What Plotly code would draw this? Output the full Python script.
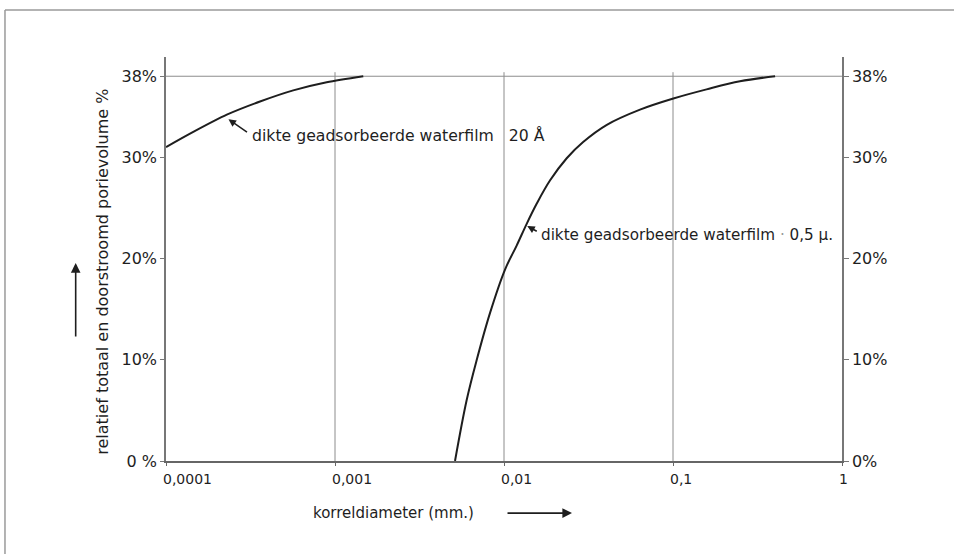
import numpy as np
import plotly.graph_objects as go

# --- data ---
d_20A = [0.0001, 0.000145, 0.000229, 0.00036, 0.000566, 0.000893, 0.00147]
v_20A = [31.0, 32.5, 34.2, 35.5, 36.6, 37.4, 38.0]

d_05u = [0.00513, 0.00601, 0.0069, 0.00826, 0.01014, 0.0119, 0.0136, 0.0156, 0.0187,
         0.0235, 0.0294, 0.0406, 0.0638, 0.1005, 0.158, 0.249, 0.402]
v_05u = [0.0, 6.0, 10.0, 14.6, 18.9, 21.3, 23.4, 25.4, 27.7,
         29.9, 31.5, 33.2, 34.7, 35.8, 36.7, 37.5, 38.0]

x_ticks = [0.0001, 0.001, 0.01, 0.1, 1]
x_labels = ["0,0001", "0,001", "0,01", "0,1", "1"]
y_ticks = [0, 10, 20, 30, 38]
y_labels_left = ["0 %", "10%", "20%", "30%", "38%"]
y_labels_right = ["0%", "10%", "20%", "30%", "38%"]
grid_x = [0.001, 0.01, 0.1]

ink = "#1e1e1e"
gray = "#8c8c8c"
font = "DejaVu Sans"

fig = go.Figure()
fig.add_trace(go.Scatter(x=d_20A, y=v_20A, mode="lines",
                         line=dict(color=ink, width=2, shape="spline", smoothing=0.8),
                         showlegend=False, hoverinfo="skip"))
fig.add_trace(go.Scatter(x=d_05u, y=v_05u, mode="lines",
                         line=dict(color=ink, width=2, shape="spline", smoothing=1.0),
                         showlegend=False, hoverinfo="skip"))
# invisible trace to activate the right axis
fig.add_trace(go.Scatter(x=[1], y=[0], yaxis="y2", mode="markers", marker=dict(opacity=0),
                         showlegend=False, hoverinfo="skip"))

shapes = []
for gx in grid_x:
    shapes.append(dict(type="line", xref="x", yref="y", x0=gx, x1=gx, y0=0, y1=38.4,
                       line=dict(color=gray, width=1), layer="below"))
shapes.append(dict(type="line", xref="paper", yref="y", x0=0, x1=1, y0=y_ticks[-1], y1=y_ticks[-1],
                   line=dict(color=gray, width=1), layer="below"))
# page frame of the scan
shapes.append(dict(type="line", xref="paper", yref="paper", x0=-0.2382, x1=-0.2382, y0=-0.24, y1=1.1163,
                   line=dict(color="#9a9a9a", width=1.5)))
shapes.append(dict(type="line", xref="paper", yref="paper", x0=-0.2382, x1=1.17, y0=1.1163, y1=1.1163,
                   line=dict(color="#9a9a9a", width=1.5)))

annotations = [
    # arrow + label for 20 Å
    dict(x=np.log10(d_20A[2]) + 0.01, y=v_20A[2] - 0.45, xref="x", yref="y", text="", showarrow=True,
         arrowhead=2, arrowsize=1, arrowwidth=1.5, arrowcolor=ink, ax=20, ay=14),
    dict(x=np.log10(d_20A[2]) + 0.14, y=v_20A[2] - 2.1, xref="x", yref="y", xanchor="left", yanchor="middle",
         text="dikte geadsorbeerde waterfilm   20 Å", showarrow=False,
         font=dict(family=font, size=15.7, color=ink)),
    # arrow + label for 0.5 µ
    dict(x=np.log10(d_05u[6]) + 0.004, y=v_05u[6] - 0.2, xref="x", yref="y", text="", showarrow=True,
         arrowhead=2, arrowsize=1, arrowwidth=1.5, arrowcolor=ink, ax=11, ay=6),
    dict(x=np.log10(d_05u[6]) + 0.076, y=v_05u[6] - 1.1, xref="x", yref="y", xanchor="left", yanchor="middle",
         text="dikte geadsorbeerde waterfilm <span style='color:#999'>·</span> 0,5 µ.", showarrow=False,
         font=dict(family=font, size=15.2, color=ink)),
    # axis titles
    dict(x=-0.0935, y=0.468, xref="paper", yref="paper", xanchor="center", yanchor="middle",
         text="relatief totaal en doorstroomd porievolume %",
         textangle=-90, showarrow=False, font=dict(family=font, size=16, color=ink)),
    dict(x=0.336, y=-0.129, xref="paper", yref="paper", xanchor="center", yanchor="middle",
         text="korreldiameter (mm.)",
         showarrow=False, font=dict(family=font, size=15, color=ink)),
    # direction arrows
    dict(x=-0.1336, y=0.490, xref="paper", yref="paper", ax=0, ay=75, text="", showarrow=True,
         arrowhead=2, arrowsize=1.2, arrowwidth=1.6, arrowcolor=ink),
    dict(x=0.6006, y=-0.129, xref="paper", yref="paper", ax=-66, ay=0, text="", showarrow=True,
         arrowhead=2, arrowsize=1.2, arrowwidth=1.6, arrowcolor=ink),
]
# x tick labels, set slightly left of each tick as in the original
for v, lab in zip(x_ticks, x_labels):
    annotations.append(dict(x=np.log10(v), y=0, xref="x", yref="y", text=lab, showarrow=False,
                            xanchor="left", yanchor="middle", xshift=-5, yshift=-18,
                            font=dict(family=font, size=14, color=ink)))

fig.update_layout(
    width=954, height=554,
    margin=dict(l=166, r=112, t=57, b=93),
    paper_bgcolor="white", plot_bgcolor="white",
    font=dict(family=font, color=ink),
    xaxis=dict(type="log", range=[-4, 0], tickvals=x_ticks, showticklabels=False,
               showgrid=False, zeroline=False, showline=True, linecolor="#666", linewidth=1.5,
               ticks="outside", ticklen=3, tickcolor="#666"),
    yaxis=dict(range=[0, 39.9], tickvals=y_ticks, ticktext=y_labels_left,
               showgrid=False, zeroline=False, showline=True, linecolor="#777", linewidth=1.5,
               ticks="outside", ticklen=4, tickcolor="#777", tickfont=dict(size=16, family=font, color=ink)),
    yaxis2=dict(range=[0, 39.9], tickvals=y_ticks, ticktext=y_labels_right, overlaying="y", side="right",
                showgrid=False, zeroline=False, showline=True, linecolor="#777", linewidth=1.5,
                ticks="outside", ticklen=5, tickcolor="#777", tickfont=dict(size=16, family=font, color=ink)),
    shapes=shapes,
    annotations=annotations,
)

fig.write_html("out.html", config={"displayModeBar": False},
               post_script="document.body.style.margin='0';document.body.style.overflow='hidden';")
